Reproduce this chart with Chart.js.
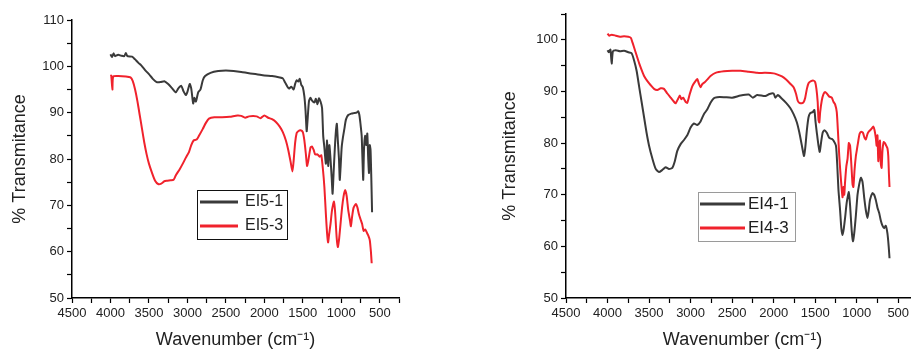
<!DOCTYPE html>
<html>
<head>
<meta charset="utf-8">
<script src="https://cdn.jsdelivr.net/npm/chart.js@4.4.0/dist/chart.umd.min.js"></script>
<style>
  html, body { margin: 0; padding: 0; background: #fff; width: 911px; height: 352px; overflow: hidden; }
  body { position: relative; }
  canvas { position: absolute; top: 0; }
  #left-chart { left: 0; }
  #right-chart { left: 490px; }
</style>
</head>
<body>
<canvas id="left-chart" width="420" height="352"></canvas>
<canvas id="right-chart" width="440" height="352"></canvas>
<script>
// tick labels
const xTicks = [4500, 4000, 3500, 3000, 2500, 2000, 1500, 1000, 500];
const yTicksLeft = [50, 60, 70, 80, 90, 100, 110];
const yTicksRight = [50, 60, 70, 80, 90, 100];

// EI5-1 (left, black)
const ei51Wn = [4000, 3980, 3960, 3940, 3900, 3860, 3820, 3800, 3780, 3720, 3680, 3640, 3600, 3550, 3500, 3450, 3400, 3350, 3300, 3250, 3200, 3150, 3120, 3080, 3050, 3020, 3000, 2970, 2950, 2925, 2910, 2890, 2860, 2830, 2800, 2770, 2700, 2600, 2500, 2400, 2300, 2200, 2100, 2000, 1900, 1800, 1760, 1730, 1700, 1680, 1650, 1620, 1600, 1580, 1560, 1540, 1520, 1500, 1480, 1465, 1450, 1440, 1420, 1400, 1380, 1350, 1330, 1310, 1290, 1270, 1250, 1235, 1220, 1200, 1185, 1170, 1155, 1140, 1125, 1113, 1100, 1085, 1070, 1058, 1045, 1030, 1020, 1010, 995, 980, 960, 940, 910, 870, 840, 800, 780, 765, 750, 735, 725, 715, 705, 690, 675, 662, 650, 640, 630, 620, 610, 600];
const ei51T = [102.6, 102.0, 102.8, 102.2, 102.5, 102.3, 102.2, 102.9, 102.2, 102.1, 101.5, 100.8, 100.2, 99.2, 98.3, 97.3, 96.6, 96.6, 96.8, 96.2, 95.3, 94.4, 95.2, 95.8, 94.6, 93.8, 94.5, 96.2, 95.2, 92.0, 93.2, 92.4, 94.4, 95.0, 97.0, 97.9, 98.6, 99.0, 99.1, 99.0, 98.8, 98.5, 98.3, 98.0, 97.9, 97.6, 97.4, 96.5, 95.6, 95.2, 95.6, 95.0, 96.2, 97.0, 96.7, 97.3, 96.0, 95.5, 93.5, 90.5, 86.0, 88.0, 92.5, 93.2, 92.6, 92.2, 93.0, 91.8, 93.1, 92.4, 91.0, 85.0, 82.5, 79.0, 84.0, 78.5, 83.0, 80.0, 76.0, 72.5, 77.0, 82.0, 86.0, 87.6, 84.0, 80.0, 75.5, 78.0, 82.5, 84.5, 86.5, 88.5, 89.5, 89.8, 89.9, 90.0, 90.3, 89.5, 87.5, 85.0, 80.0, 75.5, 82.0, 85.0, 83.0, 85.5, 80.0, 77.0, 83.0, 82.0, 76.0, 68.5];

// EI5-3 (left, red)
const ei53Wn = [4000, 3990, 3975, 3965, 3900, 3800, 3740, 3710, 3680, 3650, 3620, 3590, 3560, 3530, 3500, 3460, 3420, 3380, 3340, 3300, 3260, 3220, 3180, 3150, 3100, 3060, 3020, 2980, 2950, 2920, 2880, 2850, 2800, 2760, 2720, 2650, 2550, 2450, 2350, 2300, 2250, 2200, 2100, 2050, 2000, 1950, 1900, 1850, 1800, 1760, 1720, 1690, 1660, 1635, 1620, 1600, 1580, 1560, 1530, 1500, 1480, 1460, 1445, 1430, 1400, 1380, 1360, 1340, 1310, 1280, 1260, 1240, 1220, 1200, 1185, 1172, 1160, 1140, 1120, 1095, 1080, 1060, 1045, 1030, 1010, 990, 970, 950, 930, 910, 890, 875, 860, 840, 810, 790, 770, 750, 730, 710, 690, 670, 650, 630, 615, 605];
const ei53T = [97.9, 98.0, 95.0, 97.8, 97.9, 97.8, 97.6, 96.8, 95.0, 92.5, 89.5, 86.5, 83.5, 81.0, 79.0, 77.0, 75.3, 74.6, 74.7, 75.2, 75.3, 75.4, 75.5, 76.5, 77.8, 79.0, 80.3, 81.5, 83.0, 84.0, 84.2, 85.0, 86.5, 87.8, 88.7, 89.0, 89.0, 89.1, 89.4, 89.3, 88.9, 89.2, 89.2, 88.8, 89.4, 88.9, 88.6, 88.0, 87.0, 85.8, 84.0, 82.0, 79.5, 77.3, 79.5, 83.5, 85.6, 86.0, 86.2, 85.8, 84.0, 81.0, 78.5, 79.5, 82.5, 82.7, 82.0, 81.0, 81.0, 80.5, 80.8, 78.0, 74.0, 68.0, 64.0, 62.0, 63.5, 66.0, 69.0, 70.8, 68.5, 63.0, 61.0, 62.5, 66.0, 69.5, 72.0, 73.3, 72.0, 69.0, 67.0, 65.5, 67.5, 69.5, 70.3, 69.5, 68.0, 67.0, 66.0, 64.5, 64.8, 64.2, 63.5, 62.5, 60.0, 57.5];

// EI4-1 (right, black)
const ei41Wn = [4000, 3985, 3965, 3950, 3935, 3900, 3850, 3800, 3750, 3710, 3680, 3650, 3620, 3590, 3560, 3530, 3500, 3460, 3420, 3380, 3340, 3300, 3260, 3220, 3190, 3160, 3120, 3080, 3040, 3000, 2960, 2920, 2880, 2840, 2800, 2760, 2720, 2680, 2600, 2500, 2400, 2300, 2250, 2200, 2100, 2050, 2000, 1980, 1950, 1900, 1850, 1800, 1760, 1720, 1690, 1660, 1635, 1620, 1600, 1580, 1560, 1530, 1510, 1495, 1480, 1460, 1445, 1430, 1410, 1390, 1360, 1330, 1300, 1280, 1250, 1235, 1220, 1200, 1185, 1170, 1155, 1140, 1120, 1095, 1080, 1060, 1045, 1030, 1010, 990, 970, 950, 930, 910, 890, 870, 855, 840, 810, 790, 770, 750, 730, 710, 690, 670, 650, 630, 615, 605];
const ei41T = [98.0, 97.6, 98.1, 95.4, 97.8, 98.0, 97.8, 97.9, 97.6, 97.4, 96.0, 94.0, 91.0, 88.0, 85.0, 82.0, 79.5, 77.0, 75.0, 74.4, 74.8, 75.3, 75.0, 75.2, 76.5, 78.5, 79.8, 80.6, 81.5, 83.0, 83.8, 83.5, 84.2, 85.6, 86.5, 87.8, 88.7, 88.9, 88.9, 88.8, 89.2, 89.4, 88.8, 89.3, 89.1, 89.5, 89.6, 88.8, 89.3, 88.6, 87.8, 86.8, 85.6, 84.0, 82.0, 79.5, 77.5, 79.0, 82.5, 85.0, 85.8, 86.0, 86.4, 84.0, 82.0, 79.5, 78.3, 80.0, 82.0, 82.5, 82.0, 81.0, 80.8, 80.5, 79.5, 76.0, 71.0, 67.0, 63.5, 62.2, 63.5, 65.5, 68.5, 70.5, 68.0, 63.0, 61.0, 62.5, 66.0, 70.0, 72.0, 73.3, 72.5, 69.5, 67.0, 65.5, 67.0, 69.0, 70.3, 70.0, 69.0, 67.5, 66.5, 65.0, 64.0, 63.5, 64.0, 62.5, 60.0, 57.7];

// EI4-3 (right, red)
const ei43Wn = [4000, 3980, 3950, 3900, 3850, 3800, 3750, 3720, 3700, 3680, 3650, 3620, 3590, 3560, 3520, 3480, 3440, 3400, 3360, 3320, 3280, 3240, 3200, 3180, 3150, 3130, 3110, 3090, 3060, 3040, 3010, 2980, 2950, 2920, 2900, 2880, 2860, 2830, 2800, 2760, 2700, 2600, 2500, 2400, 2300, 2200, 2100, 2000, 1960, 1900, 1850, 1800, 1760, 1730, 1710, 1690, 1660, 1640, 1620, 1600, 1580, 1550, 1520, 1500, 1485, 1470, 1460, 1450, 1440, 1420, 1400, 1380, 1360, 1330, 1300, 1280, 1260, 1240, 1225, 1210, 1195, 1180, 1170, 1160, 1150, 1140, 1125, 1110, 1095, 1080, 1065, 1050, 1040, 1025, 1010, 1000, 985, 965, 945, 925, 905, 890, 870, 850, 820, 800, 785, 770, 760, 750, 740, 730, 720, 710, 700, 690, 675, 660, 645, 630, 620, 612, 605];
const ei43T = [101.2, 100.8, 101.0, 100.8, 100.6, 100.7, 100.6, 100.4, 99.5, 98.5, 97.0, 95.5, 94.2, 93.0, 92.0, 91.2, 90.5, 90.3, 90.6, 90.5, 89.6, 88.8, 88.0, 87.7, 88.6, 89.2, 88.5, 88.8, 88.0, 87.8, 89.5, 91.0, 91.8, 92.4, 91.5, 90.8, 91.4, 91.8, 92.3, 93.0, 93.6, 93.9, 94.0, 94.0, 93.8, 93.6, 93.6, 93.5, 93.3, 92.9, 92.3, 91.5, 90.8, 89.5, 88.2, 87.8, 87.7, 87.9, 88.8, 90.5, 91.6, 92.0, 92.1, 91.8, 90.5, 88.0, 84.5, 84.0, 86.0, 88.3, 89.5, 89.9, 89.6, 89.0, 88.8, 88.0, 87.5, 86.0, 82.0, 77.5, 74.0, 71.0, 69.5, 71.5, 70.0, 72.5, 75.5, 77.0, 80.0, 79.5, 76.0, 72.0, 71.5, 75.0, 77.5, 78.5, 80.0, 81.8, 82.2, 82.0, 81.0, 80.7, 81.8, 82.3, 82.8, 83.2, 82.5, 81.0, 79.5, 81.5, 76.5, 79.5, 80.5, 76.0, 75.2, 78.5, 80.2, 80.0, 79.5, 79.0, 77.5, 74.0, 71.5];

const FONT = '"Liberation Sans", Arial, sans-serif';
const BLACK = '#3a3a3a';
const RED = '#f0222c';

function points(wn, t) {
  return wn.map((w, i) => ({ x: w, y: t[i] }));
}

// add a minor tick halfway between each pair of labelled ticks
function withMinor(major, extraLow) {
  const out = [];
  const sorted = [...major].sort((a, b) => a - b);
  for (let i = 0; i < sorted.length; i++) {
    out.push(sorted[i]);
    if (i < sorted.length - 1) out.push((sorted[i] + sorted[i + 1]) / 2);
  }
  if (extraLow !== undefined) out.unshift(extraLow);
  return out;
}

// legend drawn in a framed box inside the plot
const boxLegend = {
  id: 'boxLegend',
  afterDatasetsDraw(chart, args, o) {
    const ctx = chart.ctx;
    ctx.save();
    ctx.fillStyle = '#fff';
    ctx.fillRect(o.x, o.y, o.w, o.h);
    ctx.strokeStyle = o.border;
    ctx.lineWidth = 1;
    ctx.strokeRect(o.x + 0.5, o.y + 0.5, o.w, o.h);
    ctx.font = o.size + 'px ' + FONT;
    ctx.textBaseline = 'middle';
    chart.data.datasets.forEach((ds, i) => {
      const yy = o.y + o.first + i * o.gapY;
      ctx.strokeStyle = ds.borderColor;
      ctx.lineWidth = 3;
      ctx.beginPath();
      ctx.moveTo(o.x + o.lineStart, yy);
      ctx.lineTo(o.x + o.lineStart + o.lineLen, yy);
      ctx.stroke();
      ctx.fillStyle = '#1e1e1e';
      ctx.fillText(ds.label, o.x + o.lineStart + o.lineLen + o.textGap, yy);
    });
    ctx.restore();
  }
};

function makeChart(id, cfg) {
  const ctx = document.getElementById(id).getContext('2d');
  return new Chart(ctx, {
    type: 'line',
    data: {
      datasets: [
        { label: cfg.labels[0], data: points(cfg.s1[0], cfg.s1[1]), borderColor: BLACK, order: 1 },
        { label: cfg.labels[1], data: points(cfg.s2[0], cfg.s2[1]), borderColor: RED, order: 0 }
      ]
    },
    options: {
      responsive: false,
      animation: false,
      devicePixelRatio: 1,
      parsing: false,
      elements: {
        point: { radius: 0 },
        line: { borderWidth: 2, tension: 0.2 }
      },
      layout: { padding: { left: 0, right: cfg.padRight, top: cfg.padTop, bottom: 0 } },
      scales: {
        x: {
          type: 'linear',
          reverse: true,
          min: 250,
          max: 4500,
          afterBuildTicks: s => { s.ticks = withMinor(xTicks, 250).map(v => ({ value: v })); },
          afterFit: s => { s.height = 54; },
          ticks: {
            autoSkip: false, maxRotation: 0, padding: 3, color: '#222',
            font: { family: FONT, size: 13 },
            callback: v => xTicks.includes(v) ? String(v) : ''
          },
          grid: { drawOnChartArea: false, tickLength: 5, tickColor: '#000', tickWidth: 1.2 },
          border: { color: '#000', width: 1.5 },
          title: {
            display: true, text: 'Wavenumber (cm⁻¹)', color: '#222',
            font: { family: FONT, size: 18 }, padding: { top: 0, bottom: 1 }
          }
        },
        y: {
          min: 50,
          max: cfg.yMax,
          afterBuildTicks: s => {
            const t = withMinor(cfg.yTicks);
            if (cfg.yMax > cfg.yTicks[cfg.yTicks.length - 1]) t.push(cfg.yMax);
            s.ticks = t.map(v => ({ value: v }));
          },
          afterFit: s => { s.width = cfg.yWidth; },
          ticks: {
            autoSkip: false, padding: 3, color: '#222',
            font: { family: FONT, size: 13 },
            callback: v => cfg.yTicks.includes(v) ? String(v) : ''
          },
          grid: { drawOnChartArea: false, tickLength: 5, tickColor: '#000', tickWidth: 1.2 },
          border: { color: '#000', width: 1.5 },
          title: {
            display: true, text: '% Transmitance', color: '#222',
            font: { family: FONT, size: 18 }, padding: { top: 9, bottom: 0 }
          }
        }
      },
      plugins: {
        legend: { display: false },
        tooltip: { enabled: false },
        boxLegend: cfg.legend
      }
    },
    plugins: [boxLegend]
  });
}

makeChart('left-chart', {
  labels: ['EI5-1', 'EI5-3'],
  s1: [ei51Wn, ei51T],
  s2: [ei53Wn, ei53T],
  yMax: 110,
  yTicks: yTicksLeft,
  yWidth: 72,
  padTop: 20,
  padRight: 21,
  legend: { x: 197, y: 190, w: 90, h: 49, first: 12, gapY: 24, lineStart: 3, lineLen: 38, textGap: 7, size: 16, border: '#111' }
});

makeChart('right-chart', {
  labels: ['EI4-1', 'EI4-3'],
  s1: [ei41Wn, ei41T],
  s2: [ei43Wn, ei43T],
  yMax: 105,
  yTicks: yTicksRight,
  yWidth: 76,
  padTop: 14,
  padRight: 11,
  legend: { x: 208, y: 192, w: 97, h: 49, first: 12, gapY: 24, lineStart: 2, lineLen: 45, textGap: 3, size: 17, border: '#9a9a9a' }
});
</script>
</body>
</html>
